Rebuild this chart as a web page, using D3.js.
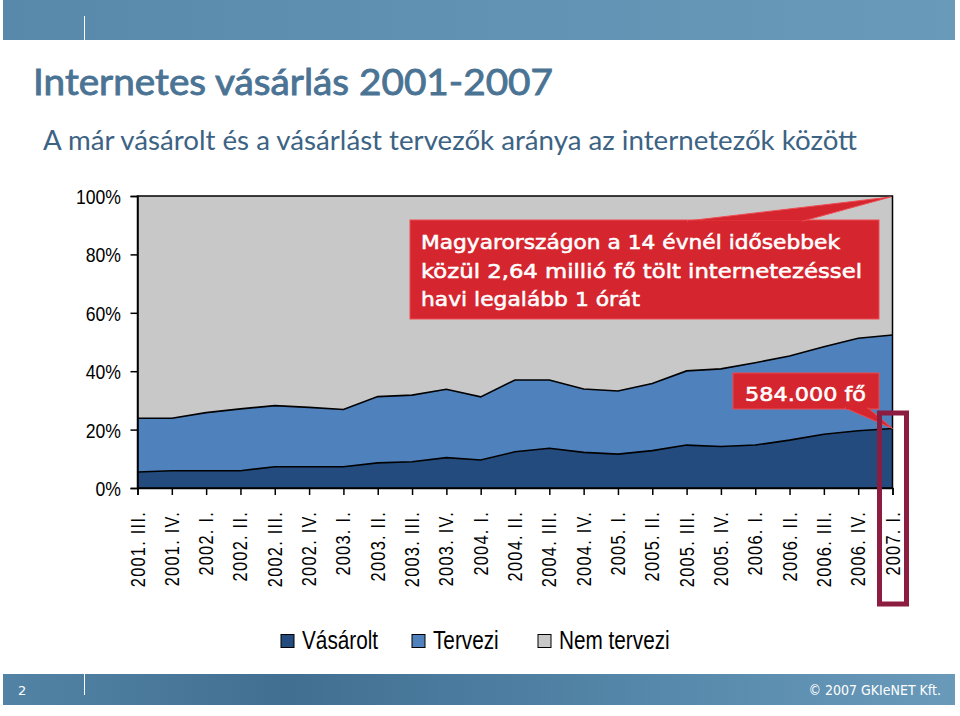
<!DOCTYPE html>
<html><head><meta charset="utf-8">
<script src="https://cdn.jsdelivr.net/npm/d3@7"></script>
<style>
html,body{margin:0;padding:0;background:#fff;}
svg{display:block;}
</style></head>
<body>
<svg id="chart" width="960" height="716"></svg>
<script>
const categories = ["2001. III.","2001. IV.","2002. I.","2002. II.","2002. III.","2002. IV.","2003. I.","2003. II.","2003. III.","2003. IV.","2004. I.","2004. II.","2004. III.","2004. IV.","2005. I.","2005. II.","2005. III.","2005. IV.","2006. I.","2006. II.","2006. III.","2006. IV.","2007. I."];
const vasarolt   = [5.5,5.9,5.9,5.9,7.3,7.3,7.3,8.6,9.0,10.4,9.6,12.4,13.6,12.2,11.6,12.8,14.7,14.2,14.7,16.4,18.4,19.6,20.4];
const tervezi    = [18.4,18.0,19.9,21.2,20.9,20.3,19.6,22.7,22.8,23.4,21.6,24.6,23.4,21.7,21.6,23.0,25.4,26.6,28.2,28.8,30.0,31.7,32.0];
const nemTervezi = [76.1,76.1,74.2,72.9,71.8,72.4,73.1,68.7,68.2,66.2,68.8,63.0,63.0,66.1,66.8,64.2,59.9,59.2,57.1,54.8,51.6,48.7,47.6];
const seriesNames = ["Vásárolt","Tervezi","Nem tervezi"];
const seriesColors = ["#234b7e","#4f81bd","#c8c8c8"];
const yTicks = [0,20,40,60,80,100];
const titleText = "Internetes vásárlás 2001-2007";
const subtitleText = "A már vásárolt és a vásárlást tervezők aránya az internetezők között";
const calloutLines = ["Magyarországon a 14 évnél idősebbek","közül 2,64 millió fő tölt internetezéssel","havi legalább 1 órát"];
const calloutSmall = "584.000 fő";

const sans = "'Liberation Sans',Arial,sans-serif";
const NS = 0.8; // horizontal squeeze to imitate a narrow face
const svg = d3.select("#chart");
const defs = svg.append("defs");

// header band
const hg = defs.append("linearGradient").attr("id","hg");
hg.append("stop").attr("offset","0").attr("stop-color","#5889ab");
hg.append("stop").attr("offset","0.5").attr("stop-color","#6192b3");
hg.append("stop").attr("offset","1").attr("stop-color","#6a9aba");
svg.append("rect").attr("x",3).attr("y",0).attr("width",952).attr("height",40).attr("fill","url(#hg)");
svg.append("line").attr("x1",84.5).attr("x2",84.5).attr("y1",16).attr("y2",40).attr("stroke","#fff").attr("stroke-width",1);

// footer band
const fg = defs.append("linearGradient").attr("id","fg");
fg.append("stop").attr("offset","0").attr("stop-color","#5283a5");
fg.append("stop").attr("offset","0.3").attr("stop-color","#416f92");
fg.append("stop").attr("offset","0.7").attr("stop-color","#5689ab");
fg.append("stop").attr("offset","1").attr("stop-color","#6a9aba");
svg.append("rect").attr("x",3).attr("y",674).attr("width",952).attr("height",31).attr("fill","url(#fg)");
svg.append("line").attr("x1",84.5).attr("x2",84.5).attr("y1",674).attr("y2",695).attr("stroke","#fff").attr("stroke-width",1);
svg.append("text").attr("x",18).attr("y",695).attr("fill","#fff").attr("font-family","'DejaVu Sans',sans-serif").attr("font-size",13).text("2");
svg.append("text").attr("x",941).attr("y",695).attr("text-anchor","end").attr("fill","#fff")
  .attr("font-family","'DejaVu Sans Condensed','DejaVu Sans',sans-serif").attr("font-size",14).text("© 2007 GKIeNET Kft.");

// titles
svg.append("text").attr("x",33).attr("y",95).attr("fill","#4a7394")
  .attr("stroke","#4a7394").attr("stroke-width",0.9)
  .attr("font-family","Lato,sans-serif").attr("font-size",37)
  .attr("textLength",520).attr("lengthAdjust","spacingAndGlyphs").text(titleText);
svg.append("text").attr("x",43).attr("y",150).attr("fill","#3d6384")
  .attr("font-family","Lato,sans-serif").attr("font-size",26)
  .attr("textLength",814).attr("lengthAdjust","spacingAndGlyphs").text(subtitleText);

// chart
const x = d3.scalePoint().domain(categories).range([137.5, 892.5]);
const y = d3.scaleLinear().domain([0,100]).range([488, 196]);
const rows = categories.map((c,i)=>({cat:c,"Vásárolt":vasarolt[i],"Tervezi":tervezi[i],"Nem tervezi":nemTervezi[i]}));
const stacked = d3.stack().keys(seriesNames)(rows);
const area = d3.area().x(d=>x(d.data.cat)).y0(d=>y(d[0])).y1(d=>y(d[1]));
const g = svg.append("g");
g.selectAll("path.area").data(stacked).join("path").attr("class","area")
  .attr("d",area).attr("fill",(d,i)=>seriesColors[i]);
const topLine = d3.line().x(d=>x(d.data.cat)).y(d=>y(d[1]));
g.selectAll("path.edge").data(stacked.slice(0,2)).join("path").attr("class","edge")
  .attr("d",topLine).attr("fill","none").attr("stroke","#000").attr("stroke-width",1.6);
g.append("rect").attr("x",x.range()[0]).attr("y",y(100)).attr("width",x.range()[1]-x.range()[0]).attr("height",y(0)-y(100))
  .attr("fill","none").attr("stroke","#000").attr("stroke-width",1.5);

const yAxis = svg.append("g").attr("transform",`translate(${x.range()[0]},0)`)
  .call(d3.axisLeft(y).tickValues(yTicks).tickFormat(d=>d+"%").tickSize(7));
yAxis.select(".domain").attr("stroke","#000").attr("stroke-width",1.5);
yAxis.selectAll(".tick line").attr("stroke","#000").attr("stroke-width",1.5);
yAxis.selectAll(".tick text").attr("font-family",sans).attr("font-size",21).attr("fill","#000")
  .attr("x",-16.5/0.84).attr("dy","0.36em").attr("transform",`scale(0.84,1)`);

const xAxis = svg.append("g").attr("transform",`translate(0,${y(0)})`)
  .call(d3.axisBottom(x).tickSize(7).tickFormat(""));
xAxis.select(".domain").attr("stroke","#000").attr("stroke-width",1.5);
xAxis.selectAll(".tick line").attr("stroke","#000").attr("stroke-width",1.5);
svg.append("g").selectAll("text").data(categories).join("text")
  .attr("transform",d=>`translate(${x(d)+7},511) rotate(-90) scale(0.78,1)`)
  .attr("text-anchor","end").attr("font-family",sans).attr("font-size",21).attr("fill","#000")
  .attr("letter-spacing",1.6).text(d=>d);

// callout 1
const last = categories[categories.length-1];
const red = "#d5262f", redEdge = "#ee4a50";
const c1 = svg.append("g");
c1.append("rect").attr("x",410).attr("y",220).attr("width",469).attr("height",99).attr("fill",red).attr("stroke",redEdge).attr("stroke-width",1);
c1.append("path").attr("d",`M687,221 L${x(last)-2},${y(100)+1} L803,221 Z`).attr("fill",red).attr("stroke",redEdge).attr("stroke-width",1);
c1.append("rect").attr("x",688).attr("y",220.5).attr("width",114).attr("height",2).attr("fill",red);
const lens = [419,441,219];
calloutLines.forEach((t,i)=>{
  c1.append("text").attr("x",421).attr("y",249+i*28.5).attr("fill","#fff")
    .attr("stroke","#fff").attr("stroke-width",0.55)
    .attr("font-family","'DejaVu Sans',Verdana,sans-serif").attr("font-size",19.5)
    .attr("textLength",lens[i]).attr("lengthAdjust","spacingAndGlyphs").text(t);
});
// callout 2
const c2 = svg.append("g");
c2.append("rect").attr("x",733).attr("y",373).attr("width",146).attr("height",36).attr("fill",red).attr("stroke",redEdge).attr("stroke-width",1);
c2.append("path").attr("d",`M845,408 L${x(last)},${y(vasarolt[vasarolt.length-1])} L868,408 Z`).attr("fill",red).attr("stroke",redEdge).attr("stroke-width",1);
c2.append("rect").attr("x",846).attr("y",406).attr("width",21).attr("height",3).attr("fill",red);
c2.append("text").attr("x",745).attr("y",401).attr("fill","#fff")
  .attr("stroke","#fff").attr("stroke-width",0.55)
  .attr("font-family","'DejaVu Sans',Verdana,sans-serif").attr("font-size",19.5)
  .attr("textLength",121).attr("lengthAdjust","spacingAndGlyphs").text(calloutSmall);

// highlight box
svg.append("rect").attr("x",x(last)-13).attr("y",413).attr("width",27).attr("height",191)
  .attr("fill","none").attr("stroke","#8c1d40").attr("stroke-width",5);

// legend
const legX = [281,412,538];
const lg = svg.append("g");
seriesNames.forEach((n,i)=>{
  lg.append("rect").attr("x",legX[i]).attr("y",634.5).attr("width",13).attr("height",13)
    .attr("fill",seriesColors[i]).attr("stroke","#000").attr("stroke-width",1);
  lg.append("text").attr("transform",`translate(${legX[i]+21},649) scale(0.83,1)`)
    .attr("font-family",sans).attr("font-size",25).attr("fill","#000").text(n);
});
</script>
</body></html>
